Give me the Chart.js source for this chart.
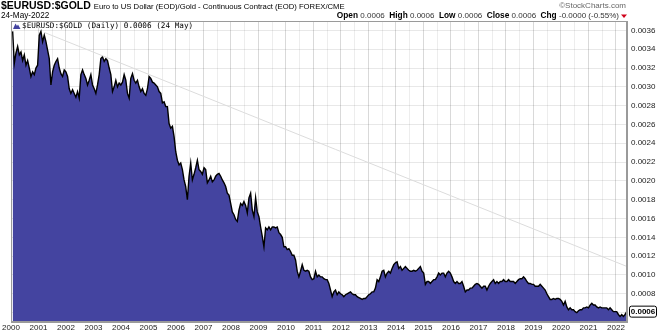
<!DOCTYPE html>
<html><head><meta charset="utf-8">
<script src="https://cdn.jsdelivr.net/npm/chart.js@4.4.1/dist/chart.umd.min.js"></script>
<style>html,body{margin:0;padding:0;background:#fff}#wrap{width:660px;height:335px;position:relative}</style>
</head><body><div id="wrap"><canvas id="c"></canvas></div>
<script>
// ---- DATA ----
const seriesStart = 2000.06;   // first sample (decimal year)
const seriesEnd = 2022.39;     // last sample, 24-May-2022
const ratioValues = [
 // 2000 - 2005
 0.00359,0.00325,0.00336,0.00343,0.00334,0.00337,0.00328,0.00334,0.00323,0.00328,0.00320,0.00311,0.00316,0.00313,0.00320,0.00323,
 0.00355,0.00359,0.00348,0.00355,0.00348,0.00339,0.00330,0.00302,0.00316,0.00323,0.00327,0.00330,0.00320,0.00314,0.00311,0.00318,
 0.00316,0.00311,0.00298,0.00293,0.00297,0.00293,0.00289,0.00295,0.00288,0.00313,0.00318,0.00313,0.00309,0.00302,0.00307,0.00313,
 0.00302,0.00298,0.00293,0.00302,0.00313,0.00330,0.00332,0.00327,0.00330,0.00328,0.00320,0.00313,0.00295,0.00300,0.00307,0.00300,
 0.00304,0.00302,0.00305,0.00313,0.00307,0.00293,0.00288,0.00309,0.00314,0.00307,0.00304,0.00307,0.00300,0.00295,0.00298,0.00293,
 0.00291,0.00298,0.00311,0.00309,0.00305,0.00304,0.00302,0.00300,0.00295,
 // 2005 - 2011
 0.00293,0.00283,0.00284,0.00279,0.00279,0.00261,0.00256,0.00258,0.00247,0.00231,0.00222,0.00217,0.00219,0.00212,0.00201,0.00194,
 0.00180,0.00205,0.00219,0.00201,0.00207,0.00214,0.00222,0.00212,0.00210,0.00207,0.00214,0.00212,0.00198,0.00201,0.00205,0.00199,
 0.00201,0.00205,0.00207,0.00208,0.00205,0.00201,0.00198,0.00194,0.00187,0.00185,0.00176,0.00167,0.00164,0.00159,0.00157,0.00169,
 0.00176,0.00174,0.00178,0.00174,0.00166,0.00182,0.00187,0.00169,0.00162,0.00182,0.00167,0.00162,0.00151,0.00141,0.00130,0.00150,
 0.00148,0.00151,0.00148,0.00151,0.00151,0.00150,0.00151,0.00145,0.00143,0.00140,0.00130,0.00130,0.00127,0.00128,0.00125,0.00121,
 0.00121,0.00116,0.00104,0.00098,0.00104,0.00111,0.00105,0.00104,0.00105,0.00104,0.00098,0.00095,0.00096,0.00104,0.00098,0.00100,
 0.00098,0.00098,0.00096,0.00095,
 // 2011 - 2017
 0.00095,0.00091,0.00084,0.00077,0.00082,0.00084,0.00079,0.00082,0.00080,0.00079,0.00077,0.00079,0.00080,0.00081,0.00082,0.00080,
 0.00079,0.00079,0.00077,0.00076,0.00075,0.00074,0.00075,0.00075,0.00077,0.00079,0.00080,0.00082,0.00082,0.00086,0.00095,0.00093,
 0.00098,0.00104,0.00105,0.00098,0.00102,0.00104,0.00102,0.00107,0.00111,0.00113,0.00114,0.00107,0.00109,0.00105,0.00107,0.00109,
 0.00107,0.00105,0.00104,0.00104,0.00105,0.00104,0.00105,0.00107,0.00109,0.00104,0.00102,0.00090,0.00093,0.00093,0.00091,0.00093,
 0.00095,0.00095,0.00098,0.00102,0.00100,0.00102,0.00102,0.00098,0.00102,0.00104,0.00102,0.00098,0.00093,0.00091,0.00093,0.00091,
 0.00091,0.00093,0.00088,0.00082,0.00084,0.00084,0.00086,0.00086,0.00088,0.00090,0.00091,0.00090,0.00088,0.00086,0.00088,
 // 2017 - 2022
 0.00088,0.00084,0.00088,0.00091,0.00093,0.00095,0.00091,0.00093,0.00091,0.00093,0.00093,0.00095,0.00093,0.00093,0.00095,0.00093,
 0.00093,0.00093,0.00091,0.00093,0.00095,0.00096,0.00096,0.00098,0.00096,0.00093,0.00091,0.00091,0.00090,0.00090,0.00088,0.00088,
 0.00088,0.00090,0.00088,0.00086,0.00084,0.00080,0.00077,0.00074,0.00074,0.00075,0.00074,0.00075,0.00075,0.00074,0.00072,0.00068,
 0.00072,0.00066,0.00063,0.00065,0.00063,0.00063,0.00061,0.00060,0.00062,0.00063,0.00063,0.00065,0.00065,0.00066,0.00065,0.00068,
 0.00070,0.00068,0.00068,0.00066,0.00065,0.00066,0.00065,0.00065,0.00065,0.00065,0.00063,0.00065,0.00063,0.00061,0.00061,0.00061,
 0.00058,0.00056,0.00058,0.00056,0.00058,0.00061
];
const trendDates = [2001.2, 2022.4];
const trendValues = [0.00358, 0.00109];
const xMin = 2000, xMax = 2022.4;
const yMin = 0.0005, yMax = 0.0037;
const yTickValues = [0.0006,0.0008,0.0010,0.0012,0.0014,0.0016,0.0018,0.0020,0.0022,0.0024,0.0026,0.0028,0.0030,0.0032,0.0034,0.0036];
const yTickLabels = ['','0.0008','0.0010','0.0012','0.0014','0.0016','0.0018','0.0020','0.0022','0.0024','0.0026','0.0028','0.0030','0.0032','0.0034','0.0036'];
const xYears = ['2000','2001','2002','2003','2004','2005','2006','2007','2008','2009','2010','2011','2012','2013','2014','2015','2016','2017','2018','2019','2020','2021','2022'];

// ---- BUILD ----
const n = ratioValues.length;
const stepYears = (seriesEnd - seriesStart) / (n - 1);
const mainPts = ratioValues.map((v, i) => ({x: seriesStart + i * stepYears, y: v}));
const trendPts = trendDates.map((d, i) => ({x: d, y: trendValues[i]}));
const lastVal = ratioValues[n - 1];
const xTickValues = [];
xYears.forEach(y => { xTickValues.push(+y); if (+y + 0.5 <= xMax) xTickValues.push(+y + 0.5); });

const FONT = '"Liberation Sans", Arial, sans-serif';
const isInt = v => Math.abs(v - Math.round(v)) < 1e-6;

const deco = {
  id: 'deco',
  afterDraw(chart) {
    const ctx = chart.ctx, a = chart.chartArea;
    ctx.save();
    ctx.strokeStyle = '#9a9a9a'; ctx.lineWidth = 1;
    ctx.strokeRect(a.left + 0.5, a.top + 0.5, a.right - a.left - 1, a.bottom - a.top - 1);
    ctx.textBaseline = 'middle'; ctx.textAlign = 'left'; ctx.fillStyle = '#000';
    ctx.font = 'bold 10.5px ' + FONT;
    const t1 = '$EURUSD:$GOLD';
    ctx.fillText(t1, 1, 6);
    const w1 = ctx.measureText(t1).width;
    ctx.font = '7.7px ' + FONT;
    ctx.fillText('Euro to US Dollar (EOD)/Gold - Continuous Contract (EOD) FOREX/CME', 1 + w1 + 3, 6.5);
    ctx.font = '8.2px ' + FONT;
    ctx.fillText('24-May-2022', 1, 16);
    ctx.font = '8px ' + FONT;
    ctx.fillStyle = '#666'; ctx.textAlign = 'right';
    ctx.fillText('\u00A9StockCharts.com', 626, 6);
    const segs = [['Open ',1],['0.0006  ',0],['High ',1],['0.0006  ',0],['Low ',1],['0.0006  ',0],['Close ',1],['0.0006  ',0],['Chg ',1],['-0.0000 (-0.55%)',0]];
    let x = 619;
    for (let i = segs.length - 1; i >= 0; i--) {
      ctx.font = (segs[i][1] ? 'bold 8.3px ' : '8px ') + FONT;
      ctx.fillStyle = segs[i][1] ? '#000' : '#333';
      ctx.fillText(segs[i][0], x, 16);
      x -= ctx.measureText(segs[i][0]).width;
    }
    ctx.fillStyle = '#d0021b';
    ctx.beginPath(); ctx.moveTo(621, 14.5); ctx.lineTo(627, 14.5); ctx.lineTo(624, 18); ctx.closePath(); ctx.fill();
    ctx.fillStyle = '#4444a0';
    ctx.beginPath(); ctx.moveTo(13, 29); ctx.lineTo(15.5, 23.5); ctx.lineTo(17, 26); ctx.lineTo(18, 24.5); ctx.lineTo(20.5, 29); ctx.closePath(); ctx.fill();
    ctx.fillStyle = '#000'; ctx.textAlign = 'left';
    ctx.font = '7.7px "DejaVu Sans Mono", monospace';
    ctx.fillText('$EURUSD:$GOLD (Daily) 0.0006 (24 May)', 22, 26.5);
    const yy = chart.scales.y.getPixelForValue(lastVal);
    ctx.beginPath();
    ctx.roundRect(629.5, yy - 5.5, 27, 11, 2);
    ctx.fillStyle = '#fff'; ctx.fill();
    ctx.strokeStyle = '#000'; ctx.lineWidth = 1; ctx.stroke();
    ctx.fillStyle = '#000'; ctx.textAlign = 'center';
    ctx.font = 'bold 8px ' + FONT;
    ctx.fillText(lastVal.toFixed(4), 643, yy + 0.5);
    ctx.restore();
  }
};

new Chart(document.getElementById('c'), {
  type: 'line',
  data: {
    datasets: [
      {data: mainPts, borderColor: '#000', borderWidth: 1.4, backgroundColor: '#4444a0',
       fill: 'start', pointRadius: 0, tension: 0, order: 2},
      {data: trendPts, borderColor: '#dcdcdc', borderWidth: 1, fill: false, pointRadius: 0, order: 1}
    ]
  },
  options: {
    responsive: true, maintainAspectRatio: false, animation: false, devicePixelRatio: 1,
    layout: {padding: {left: 11, right: 0, top: 21, bottom: 0}},
    plugins: {legend: {display: false}, tooltip: {enabled: false}},
    scales: {
      x: {type: 'linear', min: xMin, max: xMax, z: 1,
          afterFit: s => { s.height = 13; },
          afterBuildTicks: s => { s.ticks = xTickValues.map(v => ({value: v})); },
          border: {display: true, color: '#9a9a9a'},
          grid: {drawTicks: false, color: c => isInt(c.tick.value) ? 'rgba(0,0,0,0.15)' : 'rgba(0,0,0,0.07)'},
          ticks: {autoSkip: false, maxRotation: 0, padding: 1,
                  color: '#222', font: {family: FONT, size: 8},
                  callback: v => isInt(v) ? xYears[Math.round(v) - 2000] : ''}},
      y: {type: 'linear', position: 'right', min: yMin, max: yMax, z: 1,
          afterFit: s => { s.width = 33; },
          afterBuildTicks: s => { s.ticks = yTickValues.map(v => ({value: v})); },
          border: {display: true, color: '#9a9a9a'},
          grid: {drawTicks: false, color: 'rgba(0,0,0,0.09)'},
          ticks: {padding: 4, color: '#222', font: {family: FONT, size: 8},
                  callback: (v, i) => yTickLabels[i]}}
    }
  },
  plugins: [deco]
});
</script></body></html>
